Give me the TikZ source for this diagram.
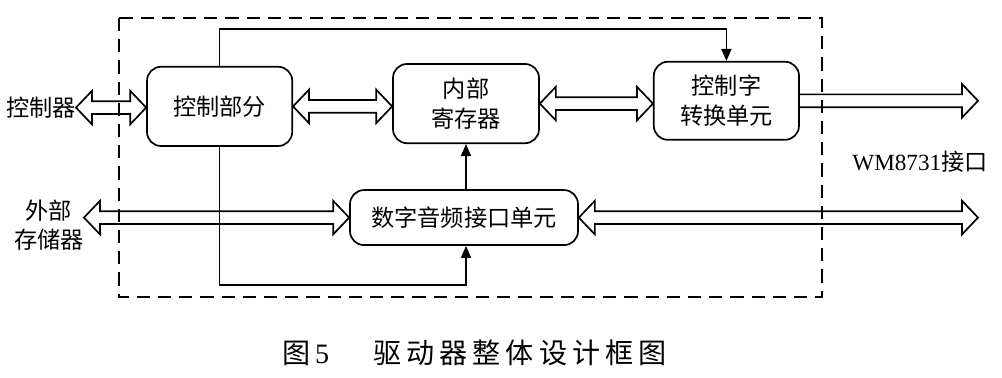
\documentclass[tikz,border=0pt]{standalone}
\usepackage{fontspec}
\setmainfont{Liberation Serif}
\newfontfamily\cjk{Noto Sans CJK SC}
\newfontfamily\capfont[LetterSpace=18]{Noto Sans CJK SC}
\usetikzlibrary{arrows.meta,positioning,calc}

% hollow bus arrows, horizontal, at the height of the first point
\newcommand{\dbus}[2]{%
  \draw[bus] let \p1=(#1), \p2=(#2) in
    (\x1,\y1) -- ++(0.4cm,0.42cm) -- ++(0,-0.26cm) -- (\x2-0.4cm,\y1+0.16cm)
    -- ++(0,0.26cm) -- (\x2,\y1) -- ++(-0.4cm,-0.42cm) -- ++(0,0.26cm)
    -- (\x1+0.4cm,\y1-0.16cm) -- ++(0,-0.26cm) -- cycle;}
\newcommand{\sbus}[2]{%
  \draw[bus] let \p1=(#1), \p2=(#2) in
    (\x1,\y1+0.16cm) -- (\x2-0.4cm,\y1+0.16cm) -- ++(0,0.26cm) -- (\x2,\y1)
    -- ++(-0.4cm,-0.42cm) -- ++(0,0.26cm) -- (\x1,\y1-0.16cm);}

\begin{document}
\begin{tikzpicture}[>={Triangle[length=0.3cm,width=0.25cm]},font=\cjk\fontsize{16.5}{21}\selectfont]
  \tikzset{unit/.style={draw,line width=1.2pt,rounded corners=0.35cm,align=center,inner sep=0pt},
    bus/.style={line width=1.2pt,line join=miter},
    wire/.style={line width=1.2pt}}
  \useasboundingbox (0,0) rectangle (25.05,9.45);
  % frame
  \draw[line width=1pt,dash pattern=on 0.33cm off 0.2cm] (2.975,9.0) rectangle (20.55,2.025);
  % units
  \node[unit,minimum width=3.63cm,minimum height=1.98cm] (ctrl) at (5.49,6.79) {控制部分};
  \node[unit,minimum width=3.65cm,minimum height=1.98cm] (reg) at (11.65,6.86) {内部\\寄存器};
  \node[unit,minimum width=3.63cm,minimum height=1.95cm] (conv) at (18.16,6.93) {控制字\\转换单元};
  \node[unit,minimum width=5.7cm,minimum height=1.375cm] (dai) at (11.6,4.01) {数字音频接口单元};
  % outside
  \node[anchor=east,inner sep=0pt] (ctrlr) at (1.9,6.76) {控制器};
  \node[anchor=east,align=center,inner sep=0pt] (ext) at (2.1,3.82) {外部\\存储器};
  \node (wm) at (23.0,5.4) {{\rmfamily WM8731}接口};
  \coordinate (wmtop) at (24.45,6.975);
  \coordinate (wmbot) at (24.45,4.1);
  % buses
  \dbus{ctrlr.east}{ctrl.west}
  \dbus{ctrl.east}{reg.west}
  \dbus{reg.east}{conv.west}
  \sbus{conv.east}{wmtop}
  \dbus{ext.east |- dai.west}{dai.west}
  \dbus{dai.east}{wmbot}
  % control lines
  \draw[wire,->] (ctrl.north) |- (5.49,8.725) -| (conv.north);
  \draw[wire,->] (ctrl.south) |- (11.65,2.325) -- (dai.south -| reg.south);
  \draw[wire,->] (dai.north -| reg.south) -- (reg.south);
  % caption
  \node[anchor=west,inner sep=0pt,font=\capfont\fontsize{20}{24}\selectfont] (cap) at (7.05,0.625) {图\,{\rmfamily 5}\hspace{1.1cm}驱动器整体设计框图};
\end{tikzpicture}
\end{document}
